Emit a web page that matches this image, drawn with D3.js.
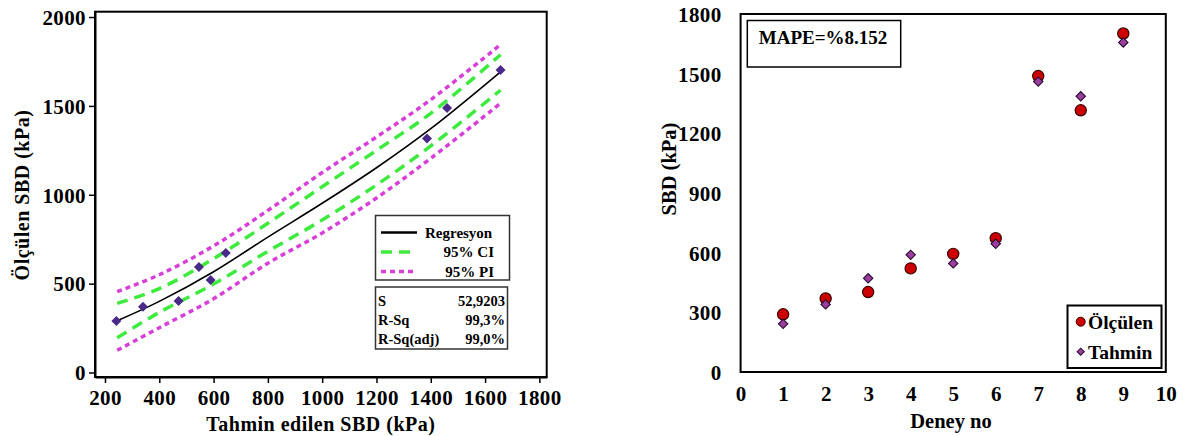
<!DOCTYPE html>
<html><head><meta charset="utf-8">
<script src="https://cdn.jsdelivr.net/npm/d3@7"></script>
<style>
body{margin:0;background:#fff;}
svg text{font-family:"Liberation Serif","Times New Roman",serif;font-weight:bold;fill:#000;}
</style></head>
<body>
<svg id="c" width="1183" height="436"></svg>
<script>
// ---- Data ----
const deneyNo = [1,2,3,4,5,6,7,8,9];
const olculen = [290, 370, 402, 521, 594, 673, 1488, 1316, 1702];
const tahmin  = [242, 340, 471, 589, 546, 645, 1460, 1386, 1657];

const fitX  = [245, 400, 600, 800, 1000, 1200, 1400, 1657];
const regY  = [291, 400, 567, 762, 952, 1152, 1372, 1692];
const ciUp  = [389, 472, 640, 840, 1045, 1250, 1458, 1788];
const ciLo  = [196, 338, 498, 682, 858, 1055, 1275, 1588];
const piUp  = [455, 550, 712, 912, 1125, 1325, 1535, 1845];
const piLo  = [125, 252, 415, 615, 785, 982, 1205, 1515];

const leftXTicks = [200,400,600,800,1000,1200,1400,1600,1800];
const leftYTicks = [0,500,1000,1500,2000];
const rightXTicks = [0,1,2,3,4,5,6,7,8,9,10];
const rightYTicks = [0,300,600,900,1200,1500,1800];

const legendLeft = ["Regresyon","95% CI","95% PI"];
const statsNames = ["S","R-Sq","R-Sq(adj)"];
const statsVals  = ["52,9203","99,3%","99,0%"];
const legendRight = ["Ölçülen","Tahmin"];
const mapeText = "MAPE=%8.152";

const svg = d3.select("#c");
const fmt = d3.format("d");

// ================= LEFT CHART =================
const L = {x0:95, x1:546.7, y0:11.7, y1:377};
const xL = d3.scaleLinear().domain([163.2,1827]).range([L.x0,L.x1]);
const yL = d3.scaleLinear().domain([-25.3,2030]).range([L.y1,L.y0]);

const gL = svg.append("g");
gL.append("rect").attr("x",L.x0).attr("y",L.y0).attr("width",L.x1-L.x0).attr("height",L.y1-L.y0)
  .attr("fill","none").attr("stroke","#000").attr("stroke-width",2);

const axXL = gL.append("g").attr("transform",`translate(0,${L.y1})`)
  .call(d3.axisBottom(xL).tickValues(leftXTicks).tickFormat(fmt).tickSize(6).tickPadding(3).tickSizeOuter(0));
axXL.select(".domain").attr("stroke-width",2);
axXL.selectAll(".tick line").attr("stroke-width",1.5);
axXL.selectAll("text").attr("font-size",21).attr("dy","0.9em").attr("letter-spacing",0.4);

const axYL = gL.append("g").attr("transform",`translate(${L.x0},0)`)
  .call(d3.axisLeft(yL).tickValues(leftYTicks).tickFormat(fmt).tickSize(6).tickPadding(3).tickSizeOuter(0));
axYL.select(".domain").attr("stroke-width",2);
axYL.selectAll(".tick line").attr("stroke-width",1.5);
axYL.selectAll("text").attr("font-size",21).attr("dy","0.35em").attr("letter-spacing",0.4);

const mkLine = (ys) => d3.line().curve(d3.curveCatmullRom.alpha(0.5))
  .x((d,i)=>xL(fitX[i])).y((d,i)=>yL(ys[i]))(ys);

const piStyle = {stroke:"#d83fd8", w:3.5, dash:"5,4"};
const ciStyle = {stroke:"#3fea3f", w:3.5, dash:"11,7"};
[piUp,piLo].forEach(a=>gL.append("path").attr("d",mkLine(a)).attr("fill","none")
  .attr("stroke",piStyle.stroke).attr("stroke-width",piStyle.w).attr("stroke-dasharray",piStyle.dash));
[ciUp,ciLo].forEach(a=>gL.append("path").attr("d",mkLine(a)).attr("fill","none")
  .attr("stroke",ciStyle.stroke).attr("stroke-width",ciStyle.w).attr("stroke-dasharray",ciStyle.dash));
gL.append("path").attr("d",mkLine(regY)).attr("fill","none").attr("stroke","#000").attr("stroke-width",1.6);

const diamond = d3.symbol().type(d3.symbolSquare).size(50);
gL.selectAll(".pt").data(tahmin).join("path")
  .attr("d",diamond)
  .attr("transform",(d,i)=>`translate(${xL(d)},${yL(olculen[i])}) rotate(45)`)
  .attr("fill","#4a2a88");

// legend
gL.append("rect").attr("x",375.5).attr("y",215.5).attr("width",134).attr("height",64.5)
  .attr("fill","#fff").attr("stroke","#333").attr("stroke-width",1.5);
const legRows = [232.5,252,271.5];
const legStyles = [{stroke:"#000",w:2.5,dash:null},{stroke:ciStyle.stroke,w:3.5,dash:"11,7"},{stroke:piStyle.stroke,w:3.5,dash:"5,4"}];
legendLeft.forEach((t,i)=>{
  const ln = gL.append("line").attr("x1",381).attr("x2",417).attr("y1",legRows[i]).attr("y2",legRows[i])
    .attr("stroke",legStyles[i].stroke).attr("stroke-width",legStyles[i].w);
  if(legStyles[i].dash) ln.attr("stroke-dasharray",legStyles[i].dash);
  gL.append("text").attr("x",i===0?425:494).attr("y",legRows[i]).attr("dy","0.35em")
    .attr("text-anchor",i===0?"start":"end").attr("font-size",15).text(t);
});
gL.append("rect").attr("x",375.5).attr("y",287).attr("width",132).attr("height",62)
  .attr("fill","#fff").attr("stroke","#333").attr("stroke-width",1.5);
const statRows = [300.5,320,338.5];
statsNames.forEach((t,i)=>{
  gL.append("text").attr("x",378).attr("y",statRows[i]).attr("dy","0.35em").attr("font-size",14.5).text(t);
  gL.append("text").attr("x",505).attr("y",statRows[i]).attr("dy","0.35em").attr("text-anchor","end")
    .attr("font-size",14.5).text(statsVals[i]);
});

gL.append("text").attr("x",(L.x0+L.x1)/2).attr("y",424).attr("dy","0.35em").attr("text-anchor","middle")
  .attr("font-size",20).attr("letter-spacing",0.5).text("Tahmin edilen SBD (kPa)");
gL.append("text").attr("transform","translate(22,195) rotate(-90)").attr("dy","0.35em")
  .attr("text-anchor","middle").attr("font-size",20).attr("letter-spacing",0.5).text("Ölçülen SBD (kPa)");

// ================= RIGHT CHART =================
const R = {x0:740.6, x1:1165.8, y0:14, y1:372};
const xR = d3.scaleLinear().domain([0,10]).range([R.x0,R.x1]);
const yR = d3.scaleLinear().domain([0,1800]).range([R.y1,R.y0]);
const gR = svg.append("g");
gR.append("rect").attr("x",R.x0).attr("y",R.y0).attr("width",R.x1-R.x0).attr("height",R.y1-R.y0)
  .attr("fill","none").attr("stroke","#000").attr("stroke-width",2);

const axXR = gR.append("g").attr("transform",`translate(0,${R.y1})`)
  .call(d3.axisBottom(xR).tickValues(rightXTicks).tickFormat(fmt).tickSize(0).tickPadding(14));
axXR.select(".domain").remove();
axXR.selectAll("text").attr("font-size",21).attr("dy","0.71em");
const axYR = gR.append("g").attr("transform",`translate(${R.x0},0)`)
  .call(d3.axisLeft(yR).tickValues(rightYTicks).tickFormat(fmt).tickSize(0).tickPadding(19));
axYR.select(".domain").remove();
axYR.selectAll("text").attr("font-size",21).attr("dy","0.35em").attr("letter-spacing",0.4);

gR.append("rect").attr("x",747.3).attr("y",20.5).attr("width",153.4).attr("height",46.5)
  .attr("fill","#fff").attr("stroke","#000").attr("stroke-width",1.5);
gR.append("text").attr("x",823).attr("y",37).attr("dy","0.35em").attr("text-anchor","middle")
  .attr("font-size",19).text(mapeText);

gR.selectAll(".ol").data(olculen).join("circle")
  .attr("cx",(d,i)=>xR(deneyNo[i])).attr("cy",d=>yR(d)).attr("r",5.6)
  .attr("fill","#cc0000").attr("stroke","#3a0000").attr("stroke-width",1.2);
const diamond2 = d3.symbol().type(d3.symbolSquare).size(44);
gR.selectAll(".ta").data(tahmin).join("path")
  .attr("d",diamond2)
  .attr("transform",(d,i)=>`translate(${xR(deneyNo[i])},${yR(d)}) rotate(45)`)
  .attr("fill","#9a3f9e").attr("stroke","#2a0a30").attr("stroke-width",1.1);

gR.append("rect").attr("x",1067.5).attr("y",305.5).attr("width",94).attr("height",62.5)
  .attr("fill","#fff").attr("stroke","#000").attr("stroke-width",2);
gR.append("circle").attr("cx",1080.7).attr("cy",321.7).attr("r",4.5)
  .attr("fill","#cc0000").attr("stroke","#3a0000").attr("stroke-width",1);
gR.append("path").attr("d",d3.symbol().type(d3.symbolSquare).size(26))
  .attr("transform","translate(1080.7,351.7) rotate(45)")
  .attr("fill","#9a3f9e").attr("stroke","#2a0a30").attr("stroke-width",1);
legendRight.forEach((t,i)=>{
  gR.append("text").attr("x",1088).attr("y",[322,352][i]).attr("dy","0.35em").attr("font-size",19.5).text(t);
});

gR.append("text").attr("x",951).attr("y",421).attr("dy","0.35em").attr("text-anchor","middle")
  .attr("font-size",20.5).text("Deney no");
gR.append("text").attr("transform","translate(669,169) rotate(-90)").attr("dy","0.35em")
  .attr("text-anchor","middle").attr("font-size",20.5).text("SBD (kPa)");
</script>
</body></html>
